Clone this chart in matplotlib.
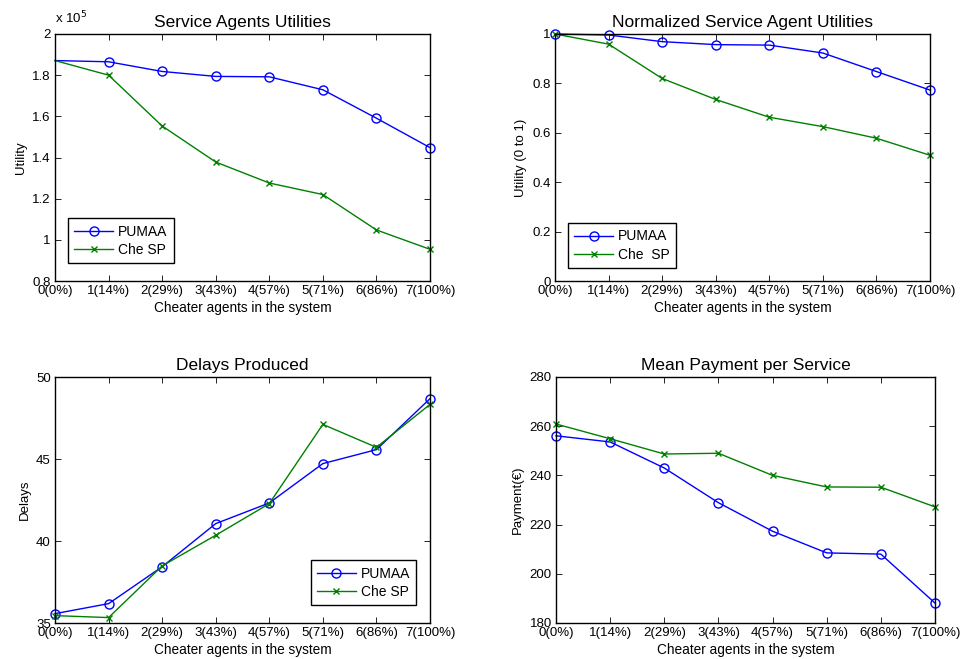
import matplotlib
matplotlib.use("Agg")
import matplotlib.pyplot as plt
from matplotlib.ticker import FuncFormatter

plt.rcParams['font.family'] = ['Liberation Sans', 'DejaVu Sans']
plt.rcParams['xtick.direction'] = 'in'
plt.rcParams['ytick.direction'] = 'in'

categorias = ["0(0%)", "1(14%)", "2(29%)", "3(43%)", "4(57%)", "5(71%)", "6(86%)", "7(100%)"]
x = list(range(len(categorias)))

util_pumaa = [187100, 186500, 181800, 179400, 179200, 172900, 159100, 144800]
util_che = [187100, 180000, 155300, 137800, 127600, 122000, 104800, 95400]

norm_pumaa = [1.0, 0.996, 0.969, 0.957, 0.955, 0.923, 0.848, 0.773]
norm_che = [1.0, 0.959, 0.820, 0.735, 0.663, 0.625, 0.578, 0.509]

delay_pumaa = [35.57, 36.18, 38.43, 41.06, 42.32, 44.72, 45.57, 48.68]
delay_che = [35.45, 35.33, 38.48, 40.35, 42.28, 47.11, 45.71, 48.33]

pay_pumaa = [256.1, 253.6, 243.0, 228.9, 217.3, 208.5, 208.0, 188.1]
pay_che = [260.9, 254.9, 248.7, 249.0, 240.0, 235.3, 235.2, 227.2]

azul = '#0000ff'
verde = '#008000'

fig = plt.figure(figsize=(9.63, 6.59), dpi=100)
W, H = 963.0, 659.0
def ejes(x0, y0, x1, y1):
    return fig.add_axes([x0 / W, 1 - y1 / H, (x1 - x0) / W, (y1 - y0) / H])

ax1 = ejes(55, 34, 430, 281)
ax2 = ejes(555, 34, 930, 281)
ax3 = ejes(55, 377, 430, 623)
ax4 = ejes(556, 377, 935, 623)

def estilo(ax, titulo, ylab, ylim, yticks):
    ax.set_xlim(0, 7)
    ax.set_ylim(*ylim)
    ax.set_yticks(yticks)
    ax.set_xticks(x)
    ax.set_xticklabels(categorias)
    ax.tick_params(labelsize=9.5, top=True, right=True, length=4, width=0.6, pad=3)
    ax.set_title(titulo, fontsize=12.5, pad=5)
    ax.set_xlabel("Cheater agents in the system", fontsize=9.8, labelpad=3)
    ax.set_ylabel(ylab, fontsize=9.5)
    for s in ax.spines.values():
        s.set_linewidth(1.0)
    ax.yaxis.set_major_formatter(FuncFormatter(lambda v, p: "%g" % v))

def leyenda(ax, etiquetas, **kw):
    lg = ax.legend(etiquetas, fontsize=10, fancybox=False, edgecolor='black',
                   framealpha=1, handlelength=2.8, handletextpad=0.35,
                   borderpad=0.45, labelspacing=0.3, borderaxespad=0, **kw)
    lg.get_frame().set_linewidth(1.0)

# grafica 1
ax1.plot(x, util_pumaa, color=azul, lw=1, marker='o', mfc='none', ms=6.5, markevery=slice(1, None))
ax1.plot(x, util_che, color=verde, lw=1, marker='x', ms=4.5, markevery=slice(1, None))
estilo(ax1, "Service Agents Utilities", "Utility", (80000, 200000),
       [80000, 100000, 120000, 140000, 160000, 180000, 200000])
ax1.yaxis.set_major_formatter(FuncFormatter(lambda v, p: "%g" % (v / 1e5)))
ax1.text(0.0, 1.03, r"x 10$^{5}$", transform=ax1.transAxes, fontsize=9.5, va='bottom')
leyenda(ax1, ["PUMAA", "Che SP"], loc='lower left', bbox_to_anchor=(0.035, 0.073))

# grafica 2
ax2.plot(x, norm_pumaa, color=azul, lw=1, marker='o', mfc='none', ms=6.5)
ax2.plot(x, norm_che, color=verde, lw=1, marker='x', ms=4.5)
estilo(ax2, "Normalized Service Agent Utilities", "Utility (0 to 1)", (0, 1),
       [0, 0.2, 0.4, 0.6, 0.8, 1])
leyenda(ax2, ["PUMAA", "Che  SP"], loc='lower left', bbox_to_anchor=(0.035, 0.053))

# grafica 3
ax3.plot(x, delay_pumaa, color=azul, lw=1, marker='o', mfc='none', ms=6.5)
ax3.plot(x, delay_che, color=verde, lw=1, marker='x', ms=4.5)
estilo(ax3, "Delays Produced", "Delays", (35, 50), [35, 40, 45, 50])
leyenda(ax3, ["PUMAA", "Che SP"], loc='lower right', bbox_to_anchor=(0.963, 0.073))

# grafica 4
ax4.plot(x, pay_pumaa, color=azul, lw=1, marker='o', mfc='none', ms=6.5)
ax4.plot(x, pay_che, color=verde, lw=1, marker='x', ms=4.5)
estilo(ax4, "Mean Payment per Service", "Payment(€)", (180, 280),
       [180, 200, 220, 240, 260, 280])

for ax in (ax1, ax2, ax3, ax4):
    for ln in ax.lines:
        ln.set_clip_on(False)

fig.savefig("out.png", dpi=100)
